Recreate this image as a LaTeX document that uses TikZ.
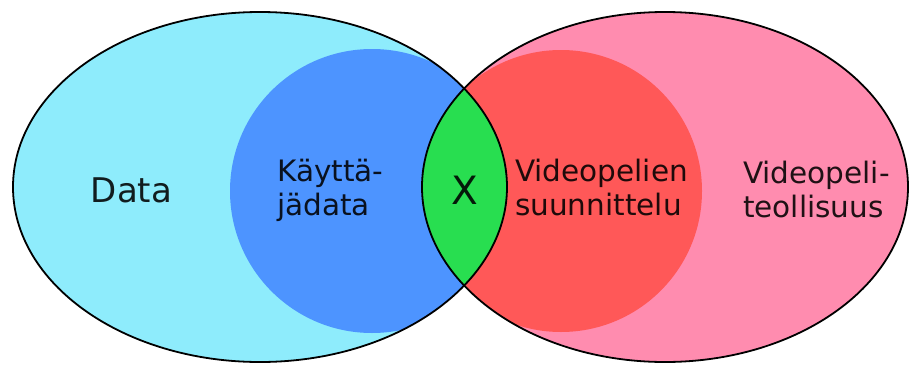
\documentclass[tikz,border=0pt]{standalone}
\usepackage{fontspec}
\setmainfont{DejaVu Sans}
\definecolor{datacyan}{HTML}{8EECFC}
\definecolor{userblue}{HTML}{4D94FF}
\definecolor{industrypink}{HTML}{FF8CAF}
\definecolor{designred}{HTML}{FF5858}
\definecolor{lensgreen}{HTML}{28DE50}
\tikzset{
  outline/.style={draw=black, line width=1.8pt},
  label/.style={inner sep=0pt, text=black, text opacity=0.88, align=left},
  smalllabel/.style={label, font=\fontsize{29.5}{33.5}\selectfont},
}
\begin{document}
\begin{tikzpicture}[x=1pt, y=-1pt]
  \useasboundingbox (0,0) rectangle (910,367);
  \def\leftset{(260,187) ellipse [x radius=247, y radius=175]}
  \def\rightset{(665,187) ellipse [x radius=243, y radius=175]}
  % outer sets
  \fill[datacyan] \leftset;
  \fill[industrypink] \rightset;
  % inner discs, kept inside their own set
  \begin{scope}
    \clip \leftset;
    \fill[userblue] (372,191) circle [radius=142];
  \end{scope}
  \begin{scope}
    \clip \rightset;
    \fill[designred] (561,191) circle [radius=141];
  \end{scope}
  % overlap of the two sets
  \begin{scope}
    \clip \leftset;
    \fill[lensgreen] \rightset;
  \end{scope}
  % borders
  \draw[outline] \leftset;
  \draw[outline] \rightset;
  % labels
  \node[label, font=\fontsize{34}{38}\selectfont, anchor=base] (data) at (131.5,202) {Data};
  \node[smalllabel, anchor=base west] (user) at (277,215) {Käyttä-\\jädata};
  \node[label, font=\fontsize{39}{42}\selectfont, anchor=base] (x) at (465,204) {X};
  \node[smalllabel, anchor=base west] (design) at (515,215) {Videopelien\\suunnittelu};
  \node[smalllabel, anchor=base west] (industry) at (743,217) {Videopeli-\\teollisuus};
\end{tikzpicture}
\end{document}
